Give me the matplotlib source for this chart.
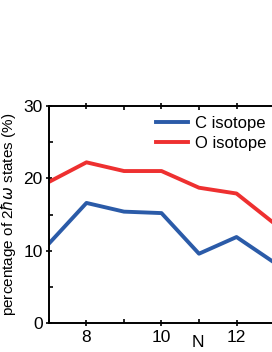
import matplotlib
matplotlib.use('Agg')
import matplotlib.pyplot as plt
from matplotlib.ticker import MultipleLocator

plt.rcParams['font.family'] = ['Liberation Sans', 'DejaVu Sans']
plt.rcParams['mathtext.fontset'] = 'custom'
plt.rcParams['mathtext.rm'] = 'Liberation Sans'
plt.rcParams['mathtext.it'] = 'DejaVu Sans:italic'

# 값은 그림에서 읽음
n_vals = [7, 8, 9, 10, 11, 12, 13]
c_iso = [11.0, 16.6, 15.4, 15.2, 9.6, 11.9, 8.4]
o_iso = [19.5, 22.2, 21.0, 21.0, 18.7, 17.9, 13.8]

fig = plt.figure(figsize=(2.72, 3.52), dpi=100)
ax = fig.add_axes([0.180, 0.0815, 0.855, 0.618])

ax.plot(n_vals, c_iso, color='#2b5ba8', lw=2.8, label='C isotope')
ax.plot(n_vals, o_iso, color='#ee3030', lw=2.8, label='O isotope')

ax.set_xlim(7, 13.2)
ax.set_ylim(0, 30)
ax.xaxis.set_major_locator(MultipleLocator(2))
ax.xaxis.set_minor_locator(MultipleLocator(1))
ax.yaxis.set_major_locator(MultipleLocator(10))
ax.yaxis.set_minor_locator(MultipleLocator(5))
ax.tick_params(which='major', direction='inout', length=5, width=1.2,
               labelsize=12.5, top=True, pad=2)
ax.tick_params(which='minor', direction='in', length=3, width=1.2, top=True)
for s in ax.spines.values():
    s.set_linewidth(1.4)

ax.set_ylabel(r'percentage of 2$\hbar\omega$ states (%)', fontsize=11, labelpad=4)
ax.set_xlabel('N', fontsize=12.5, labelpad=0)
ax.xaxis.set_label_coords(0.64, -0.055)

ax.legend(loc='upper left', bbox_to_anchor=(0.405, 1.015), frameon=False,
          fontsize=12, handlelength=1.9, handletextpad=0.4,
          labelspacing=0.3, borderpad=0.3)

fig.savefig('out.png', dpi=100)
